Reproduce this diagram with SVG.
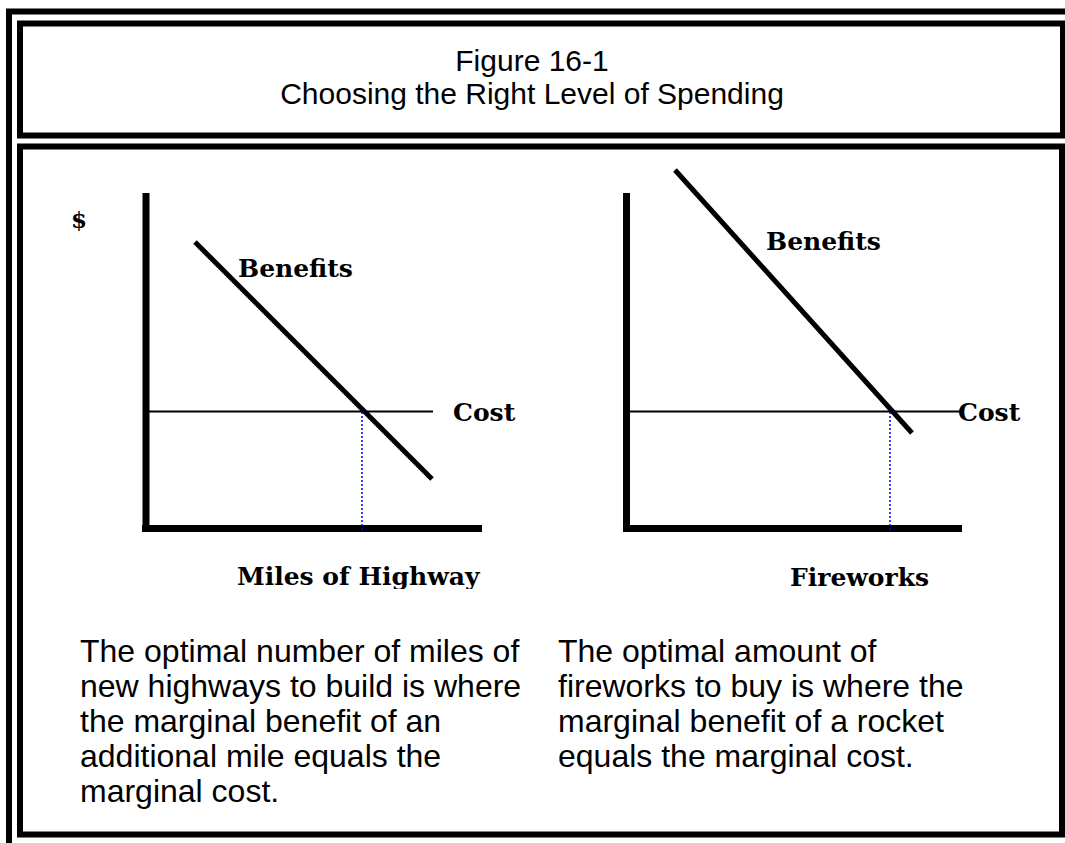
<svg xmlns="http://www.w3.org/2000/svg" width="1065" height="843" viewBox="0 0 1065 843">
<style>
.frame{fill:none;stroke:#000;stroke-width:6}
.axis{stroke:#000;stroke-width:7;fill:none}
.curve{stroke:#000;stroke-width:5;fill:none}
.cost{stroke:#000;stroke-width:2;fill:none}
.drop{stroke:#0000ff;stroke-width:1.5;stroke-dasharray:2 2;fill:none}
.lbl{font-family:"DejaVu Serif","Liberation Serif",serif;font-weight:bold;font-size:25px;fill:#000}
.title{font-family:"Liberation Sans",Arial,sans-serif;font-size:30px;fill:#000}
.body{font-family:"Liberation Sans",Arial,sans-serif;font-size:32px;fill:#000}
</style>
<defs>
<clipPath id="clipX"><rect x="0" y="0" width="1065" height="589"/></clipPath>
</defs>
<rect width="1065" height="843" fill="#fff"/>
<g id="frames">
<rect class="frame" x="9" y="11.5" width="1070" height="850"/>
<rect class="frame" x="20" y="23.5" width="1043" height="112"/>
<rect class="frame" x="20" y="146.5" width="1042" height="688"/>
</g>
<g id="title">
<text class="title" x="532" y="71" text-anchor="middle">Figure 16-1</text>
<text class="title" x="532" y="104" text-anchor="middle">Choosing the Right Level of Spending</text>
</g>
<g id="connectors">
<line class="axis" x1="146" y1="193" x2="146" y2="532"/>
<line class="axis" x1="142" y1="528.5" x2="482" y2="528.5"/>
<line class="cost" x1="148" y1="411.5" x2="433" y2="411.5"/>
<line class="curve" x1="195" y1="242" x2="432" y2="479"/>
<line class="drop" x1="362" y1="412" x2="362" y2="530"/>
<line class="axis" x1="626.5" y1="193" x2="626.5" y2="532"/>
<line class="axis" x1="623" y1="528.5" x2="962" y2="528.5"/>
<line class="cost" x1="628" y1="411.5" x2="960" y2="411.5"/>
<line class="curve" x1="675" y1="170" x2="912" y2="433"/>
<line class="drop" x1="890" y1="412" x2="890" y2="530"/>
</g>
<g id="left-chart-labels">
<text class="lbl" x="71" y="228" style="font-size:23px">$</text>
<text class="lbl" x="238" y="277">Benefits</text>
<text class="lbl" x="453" y="421">Cost</text>
<text class="lbl" x="237" y="585" clip-path="url(#clipX)">Miles of Highway</text>
</g>
<g id="right-chart-labels">
<text class="lbl" x="766" y="250">Benefits</text>
<text class="lbl" x="958" y="421">Cost</text>
<text class="lbl" x="790" y="586">Fireworks</text>
</g>
<g id="left-caption">
<text class="body" x="80" y="662">The optimal number of miles of</text>
<text class="body" x="80" y="697">new highways to build is where</text>
<text class="body" x="80" y="732">the marginal benefit of an</text>
<text class="body" x="80" y="767">additional mile equals the</text>
<text class="body" x="80" y="802">marginal cost.</text>
</g>
<g id="right-caption">
<text class="body" x="558" y="662">The optimal amount of</text>
<text class="body" x="558" y="697">fireworks to buy is where the</text>
<text class="body" x="558" y="732">marginal benefit of a rocket</text>
<text class="body" x="558" y="767">equals the marginal cost.</text>
</g>
</svg>
